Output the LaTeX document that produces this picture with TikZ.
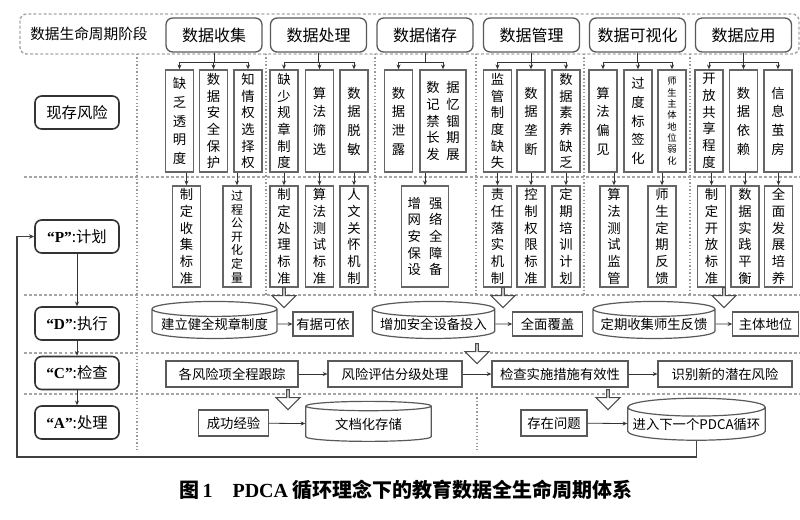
\documentclass[tikz,border=0pt]{standalone}
\usepackage{fontspec}
\setmainfont{Noto Sans CJK SC}
\newfontfamily\latinfont{Liberation Serif}
\usetikzlibrary{arrows.meta, shapes.geometric, shapes.arrows}

\begin{document}
\begin{tikzpicture}[x=0.75pt, y=-0.75pt, font=\fontsize{10}{12.5}\selectfont,
  stage/.style={draw=black!65, line width=1pt, rounded corners=5pt, minimum width=72pt, minimum height=25.5pt, inner sep=0pt, font=\fontsize{12}{14}\selectfont},
  rowlabel/.style={draw=black!80, line width=1.2pt, rounded corners=5pt, minimum width=63pt, minimum height=24.75pt, inner sep=0pt, font=\fontsize{11.5}{14}\selectfont},
  riskbox/.style={draw=black!60, line width=1.2pt, minimum width=21pt, minimum height=76.5pt, inner sep=0pt, align=center, font=\fontsize{10}{12.5}\selectfont},
  planbox/.style={riskbox, minimum height=75.75pt},
  widegap/.style={font=\fontsize{10}{14}\selectfont},
  drum/.style={cylinder, shape border rotate=90, aspect=0.14, draw=black!65, line width=0.9pt, inner sep=0pt, minimum height=27.75pt},
  stepbox/.style={draw=black!65, line width=0.9pt, inner sep=0pt, minimum height=19.5pt},
  hollow/.style={single arrow, shape border rotate=270, draw=black!70, fill=white, line width=0.8pt, minimum width=18pt, minimum height=15pt, single arrow head extend=3.5pt, inner sep=0pt},
  feed/.style={draw=black!80, line width=0.6pt, -{Stealth[length=3.5pt, width=3pt]}},
  tree/.style={draw=black!80, line width=0.6pt},
  loopline/.style={draw=black!75, line width=0.9pt, -{Stealth[length=4pt, width=3.5pt]}},
  rowsep/.style={draw=gray!70, line width=1.1pt, dash pattern=on 2.2pt off 1.6pt},
  colsep/.style={draw=gray!80, line width=0.9pt, dash pattern=on 1pt off 1.6pt}
]
  \useasboundingbox (0,0) rectangle (800,519);
  % ===== separators =====
  \draw[rowsep, rounded corners=5pt] (20,14) rectangle (799,54);
  \draw[rowsep] (24,177) -- (800,177);
  \draw[rowsep] (24,295) -- (800,295);
  \draw[rowsep] (24,353) -- (800,353);
  \draw[rowsep] (24,394) -- (800,394);
  \draw[colsep] (137,54) -- (137,450);
  \draw[colsep] (266,54) -- (266,295);
  \draw[colsep] (375,54) -- (375,295);
  \draw[colsep] (476,54) -- (476,295);
  \draw[colsep] (584,54) -- (584,295);
  \draw[colsep] (690,54) -- (690,295);
  \draw[colsep] (477,394) -- (477,450);

  % ===== stage headers =====
  \node[font=\fontsize{11}{13}\selectfont] (life) at (89,34) {数据生命周期阶段};
  \node[stage] (h1) at (214,35)   {数据收集};
  \node[stage] (h2) at (318.5,35) {数据处理};
  \node[stage] (h3) at (425,35)   {数据储存};
  \node[stage] (h4) at (531.5,35) {数据管理};
  \node[stage] (h5) at (637.5,35) {数据可视化};
  \node[stage] (h6) at (743.5,35) {数据应用};

  % ===== row labels =====
  \node[rowlabel] (lr) at (77,112.5) {现存风险};
  \node[rowlabel] (lp) at (77,236.5) {{\latinfont\bfseries “P”}:计划};
  \node[rowlabel] (ld) at (77,323.5) {{\latinfont\bfseries “D”}:执行};
  \node[rowlabel] (lc) at (77,373)   {{\latinfont\bfseries “C”}:检查};
  \node[rowlabel] (la) at (77,422.5) {{\latinfont\bfseries “A”}:处理};

  % ===== existing risks =====
  \node[riskbox, widegap] (r11) at (179.5,121) {缺\\乏\\透\\明\\度};
  \node[riskbox] (r12) at (213.5,121) {数\\据\\安\\全\\保\\护};
  \node[riskbox] (r13) at (248,121)   {知\\情\\权\\选\\择\\权};
  \node[riskbox] (r21) at (284,121)   {缺\\少\\规\\章\\制\\度};
  \node[riskbox, widegap] (r22) at (319.5,121) {算\\法\\筛\\选};
  \node[riskbox, widegap] (r23) at (354,121)   {数\\据\\脱\\敏};
  \node[riskbox, widegap] (r31) at (398.5,121) {数\\据\\泄\\露};
  \node[riskbox, minimum width=34.5pt] (r32) at (443,121) {数\hspace{5pt}据\\记\hspace{5pt}忆\\禁\hspace{5pt}锢\\长\hspace{5pt}期\\发\hspace{5pt}展};
  \node[riskbox] (r41) at (497.5,121) {监\\管\\制\\度\\缺\\失};
  \node[riskbox, widegap] (r42) at (531,121) {数\\据\\垄\\断};
  \node[riskbox] (r43) at (566,121)   {数\\据\\素\\养\\缺\\乏};
  \node[riskbox, widegap] (r51) at (603,121) {算\\法\\偏\\见};
  \node[riskbox, widegap] (r52) at (638,121) {过\\度\\标\\签\\化};
  \node[riskbox, font=\fontsize{7}{8.5}\selectfont] (r53) at (672,121) {师\\生\\主\\体\\地\\位\\弱\\化};
  \node[riskbox] (r61) at (709,121)   {开\\放\\共\\享\\程\\度};
  \node[riskbox, widegap] (r62) at (743.5,121) {数\\据\\依\\赖};
  \node[riskbox, widegap] (r63) at (778,121)   {信\\息\\茧\\房};

  % ===== plans =====
  \node[planbox] (p11) at (186.5,236.5) {制\\定\\收\\集\\标\\准};
  \node[planbox, font=\fontsize{9}{10.2}\selectfont] (p12) at (237,236.5) {过\\程\\公\\开\\化\\定\\量};
  \node[planbox] (p21) at (284,236.5)   {制\\定\\处\\理\\标\\准};
  \node[planbox] (p22) at (319.5,236.5) {算\\法\\测\\试\\标\\准};
  \node[planbox] (p23) at (354,236.5)   {人\\文\\关\\怀\\机\\制};
  \node[planbox, minimum width=35pt] (p31) at (425,236.5) {增\hspace{6pt}强\\网\hspace{6pt}络\\安\hspace{6pt}全\\保\hspace{6pt}障\\设\hspace{6pt}备};
  \node[planbox] (p41) at (497.5,236.5) {责\\任\\落\\实\\机\\制};
  \node[planbox] (p42) at (531,236.5)   {控\\制\\权\\限\\标\\准};
  \node[planbox] (p43) at (566,236.5)   {定\\期\\培\\训\\计\\划};
  \node[planbox] (p51) at (614,236.5)   {算\\法\\测\\试\\监\\管};
  \node[planbox] (p52) at (662,236.5)   {师\\生\\定\\期\\反\\馈};
  \node[planbox] (p61) at (711.5,236.5) {制\\定\\开\\放\\标\\准};
  \node[planbox] (p62) at (745,236.5)   {数\\据\\实\\践\\平\\衡};
  \node[planbox] (p63) at (778.5,236.5) {全\\面\\发\\展\\培\\养};

  % ===== header -> risk trees =====
  \coordinate (bar) at (0,62);
  \draw[tree] (h1.south) -- (h1.south |- bar);
  \draw[tree] (r11.north |- bar) -- (r13.north |- bar);
  \draw[feed] (r11.north |- bar) -- (r11.north);
  \draw[feed] (r12.north |- bar) -- (r12.north);
  \draw[feed] (r13.north |- bar) -- (r13.north);
  \draw[tree] (h2.south) -- (h2.south |- bar);
  \draw[tree] (r21.north |- bar) -- (r23.north |- bar);
  \draw[feed] (r21.north |- bar) -- (r21.north);
  \draw[feed] (r22.north |- bar) -- (r22.north);
  \draw[feed] (r23.north |- bar) -- (r23.north);
  \draw[tree] (h3.south) -- (h3.south |- bar);
  \draw[tree] (r31.north |- bar) -- (r32.north |- bar);
  \draw[feed] (r31.north |- bar) -- (r31.north);
  \draw[feed] (r32.north |- bar) -- (r32.north);
  \draw[tree] (h4.south) -- (h4.south |- bar);
  \draw[tree] (r41.north |- bar) -- (r43.north |- bar);
  \draw[feed] (r41.north |- bar) -- (r41.north);
  \draw[feed] (r42.north |- bar) -- (r42.north);
  \draw[feed] (r43.north |- bar) -- (r43.north);
  \draw[tree] (h5.south) -- (h5.south |- bar);
  \draw[tree] (r51.north |- bar) -- (r53.north |- bar);
  \draw[feed] (r51.north |- bar) -- (r51.north);
  \draw[feed] (r52.north |- bar) -- (r52.north);
  \draw[feed] (r53.north |- bar) -- (r53.north);
  \draw[tree] (h6.south) -- (h6.south |- bar);
  \draw[tree] (r61.north |- bar) -- (r63.north |- bar);
  \draw[feed] (r61.north |- bar) -- (r61.north);
  \draw[feed] (r62.north |- bar) -- (r62.north);
  \draw[feed] (r63.north |- bar) -- (r63.north);

  % ===== risk -> plan =====
  \draw[feed] (r11.south -| p11.north) -- (p11.north);
  \draw[feed] (r13.south -| p12.north) -- (p12.north);
  \draw[feed] (r21.south -| p21.north) -- (p21.north);
  \draw[feed] (r22.south -| p22.north) -- (p22.north);
  \draw[feed] (r23.south -| p23.north) -- (p23.north);
  \draw[feed] (r32.south -| p31.north) -- (p31.north);
  \draw[feed] (r41.south -| p41.north) -- (p41.north);
  \draw[feed] (r42.south -| p42.north) -- (p42.north);
  \draw[feed] (r43.south -| p43.north) -- (p43.north);
  \draw[feed] (r51.south -| p51.north) -- (p51.north);
  \draw[feed] (r53.south -| p52.north) -- (p52.north);
  \draw[feed] (r61.south -| p61.north) -- (p61.north);
  \draw[feed] (r62.south -| p62.north) -- (p62.north);
  \draw[feed] (r63.south -| p63.north) -- (p63.north);

  % ===== D: execute =====
  \node[drum, minimum width=93.75pt] (d1) at (214.5,324) {建立健全规章制度};
  \node[stepbox, minimum width=45pt, minimum height=18pt] (k1) at (323,324) {有据可依};
  \node[drum, minimum width=92pt] (d2) at (433.5,324) {增加安全设备投入};
  \node[stepbox, minimum width=52pt, minimum height=18pt] (k2) at (547.5,324) {全面覆盖};
  \node[drum, minimum width=91.5pt] (d3) at (654,324) {定期收集师生反馈};
  \node[stepbox, minimum width=49pt, minimum height=18pt] (k3) at (765.5,324) {主体地位};
  \draw[feed] (d1) -- (k1);
  \draw[feed] (d2) -- (k2);
  \draw[feed] (d3) -- (k3);

  % ===== C: check =====
  \node[stepbox, minimum width=99pt]    (c1) at (232,374) {各风险项全程跟踪};
  \node[stepbox, minimum width=100.5pt] (c2) at (395,374) {风险评估分级处理};
  \node[stepbox, minimum width=102pt]   (c3) at (560,374) {检查实施措施有效性};
  \node[stepbox, minimum width=100.5pt] (c4) at (725,374) {识别新的潜在风险};
  \draw[feed] (c1) -- (c2);
  \draw[feed] (c2) -- (c3);
  \draw[feed] (c3) -- (c4);

  % ===== A: act =====
  \node[stepbox, minimum width=52pt] (a1) at (233.5,423) {成功经验};
  \node[drum, minimum width=94pt, minimum height=30pt] (a2) at (368.5,424) {文档化存储};
  \node[stepbox, minimum width=49.5pt] (a3) at (554,423) {存在问题};
  \node[drum, minimum width=103pt, minimum height=31.5pt] (a4) at (696.5,424) {进入下一个PDCA循环};
  \draw[feed] (a1) -- (a2);
  \draw[feed] (a3) -- (a4);

  % ===== hollow arrows between rows =====
  \node[hollow] (ha1) at (284,297) {};
  \node[hollow] (ha2) at (503,297) {};
  \node[hollow] (ha3) at (724,297) {};
  \node[hollow] (ha4) at (477,353) {};
  \node[hollow] (ha5) at (288,399) {};
  \node[hollow] (ha6) at (608,399) {};

  % ===== PDCA column and loop =====
  \draw[feed] (lp.south) -- (ld.north);
  \draw[feed] (ld.south) -- (lc.north);
  \draw[feed] (lc.south) -- (la.north);
  \coordinate (loopc) at (17,457);
  \draw[loopline] (a4.south) |- (loopc) |- (lp.west);

  % ===== caption =====
  \node[font=\fontsize{15}{18}\selectfont\bfseries] (cap) at (406,490) {图\,{\latinfont 1}\hspace{1em}{\latinfont PDCA} 循环理念下的教育数据全生命周期体系};
\end{tikzpicture}
\end{document}
